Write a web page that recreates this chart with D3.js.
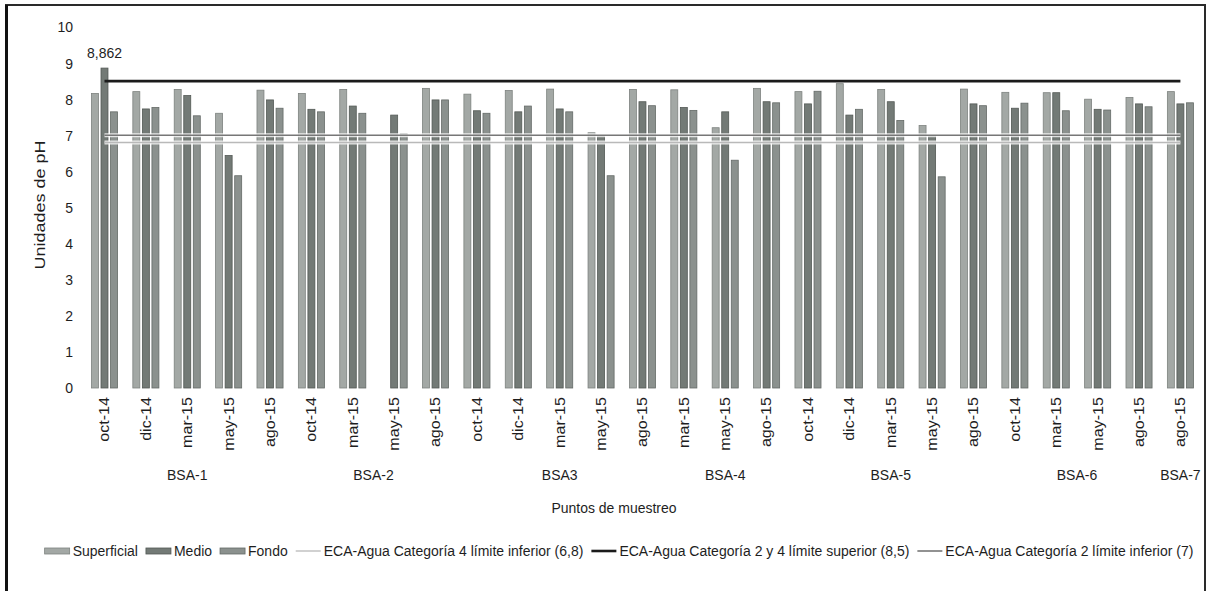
<!DOCTYPE html>
<html>
<head>
<meta charset="utf-8">
<script src="https://cdn.jsdelivr.net/npm/d3@7"></script>
<style>
  body { margin: 0; background: #fff; }
  svg { display: block; }
  text { font-family: "Liberation Sans", Arial, sans-serif; fill: #1e1e1e; }
</style>
</head>
<body>
<svg id="chart" width="1208" height="591"></svg>
<script>
// Sampling dates (one per category on the axis)
const fechas = [
  "oct-14", "dic-14", "mar-15", "may-15", "ago-15",
  "oct-14", "mar-15", "may-15", "ago-15",
  "oct-14", "dic-14", "mar-15", "may-15", "ago-15",
  "mar-15", "may-15", "ago-15",
  "oct-14", "dic-14", "mar-15", "may-15", "ago-15",
  "oct-14", "mar-15", "may-15", "ago-15",
  "ago-15"
];
// Sampling stations and how many dates each one groups
const estaciones = ["BSA-1", "BSA-2", "BSA3", "BSA-4", "BSA-5", "BSA-6", "BSA-7"];
const muestrasPorEstacion = [5, 4, 5, 3, 5, 4, 1];

// pH by depth (null = no sample)
const superficial = [8.16, 8.21, 8.27, 7.61, 8.25, 8.16, 8.27, null, 8.30, 8.14, 8.24, 8.28, 7.07, 8.27,
                     8.26, 7.21, 8.30, 8.21, 8.43, 8.27, 7.27, 8.28, 8.19, 8.18, 8.00, 8.05, 8.21];
const medio       = [8.862, 7.73, 8.10, 6.44, 7.98, 7.72, 7.81, 7.56, 7.98, 7.68, 7.65, 7.73, 6.97, 7.93,
                     7.77, 7.65, 7.93, 7.87, 7.56, 7.93, 6.98, 7.87, 7.75, 8.18, 7.72, 7.87, 7.87];
const fondo       = [7.65, 7.77, 7.54, 5.88, 7.75, 7.65, 7.61, 7.04, 7.98, 7.61, 7.81, 7.65, 5.88, 7.82,
                     7.69, 6.31, 7.90, 8.22, 7.72, 7.41, 5.85, 7.82, 7.89, 7.68, 7.70, 7.79, 7.90];

const seriesNombres = ["Superficial", "Medio", "Fondo"];
const seriesValores = [superficial, medio, fondo];

// ECA water-quality limits
const limites = [
  { nombre: "ECA-Agua Categoría 4 límite inferior (6,8)", valor: 6.8 },
  { nombre: "ECA-Agua Categoría 2 y 4 límite superior (8,5)", valor: 8.5 },
  { nombre: "ECA-Agua Categoría 2 límite inferior (7)", valor: 7 }
];

const yTicks = [0, 1, 2, 3, 4, 5, 6, 7, 8, 9, 10];

// ---- styles ----
const barColor = { "Superficial": "#a3a8a5", "Medio": "#737a76", "Fondo": "#8b918e" };
const barStroke = { "Superficial": "#7d827f", "Medio": "#535955", "Fondo": "#646a67" };
const lineStyle = [
  { stroke: "#b9b9b9", width: 1.3, halo: true },
  { stroke: "#1b1b1b", width: 2.6, halo: false },
  { stroke: "#777777", width: 1.6, halo: true }
];
const hStretch = "scale(1,1.1)";

const svg = d3.select("#chart");

// frame
svg.append("rect").attr("x", 6).attr("y", 5).attr("width", 1199).attr("height", 640)
  .attr("fill", "none").attr("stroke", "#2a2a2a").attr("stroke-width", 2);
svg.append("line").attr("x1", 6.5).attr("x2", 6.5).attr("y1", 5).attr("y2", 591)
  .attr("stroke", "#111").attr("stroke-width", 3);

// scales
const x0 = d3.scaleBand()
  .domain(d3.range(fechas.length))
  .range([83.8, 1201.1])
  .paddingInner(0.37)
  .paddingOuter(0.185);
const x1 = d3.scaleBand()
  .domain(seriesNombres)
  .range([0, x0.bandwidth()])
  .paddingInner(0.27);
const y = d3.scaleLinear().domain([0, 10]).range([388, 27]);

// bars
const gBars = svg.append("g");
const barData = [];
fechas.forEach((f, i) => {
  seriesNombres.forEach((s, k) => {
    const v = seriesValores[k][i];
    if (v != null) barData.push({ i, s, v });
  });
});
gBars.selectAll("rect").data(barData).join("rect")
  .attr("x", d => x0(d.i) + x1(d.s))
  .attr("width", x1.bandwidth())
  .attr("y", d => y(d.v))
  .attr("height", d => y(0) - y(d.v))
  .attr("fill", d => barColor[d.s])
  .attr("stroke", d => barStroke[d.s])
  .attr("stroke-width", 0.8);

// limit lines, from first to last category centre
const xFirst = x0(0) + x0.bandwidth() / 2;
const xLast = x0(fechas.length - 1) + x0.bandwidth() / 2;
const gLines = svg.append("g");
limites.forEach((l, k) => {
  const st = lineStyle[k];
  if (st.halo) {
    gLines.append("line")
      .attr("x1", xFirst).attr("x2", xLast).attr("y1", y(l.valor)).attr("y2", y(l.valor))
      .attr("stroke", "#ffffff").attr("stroke-opacity", 0.78).attr("stroke-width", 4);
  }
});
limites.forEach((l, k) => {
  const st = lineStyle[k];
  gLines.append("line")
    .attr("x1", xFirst).attr("x2", xLast).attr("y1", y(l.valor)).attr("y2", y(l.valor))
    .attr("stroke", st.stroke).attr("stroke-width", st.width);
});

// value label on the maximum
const iMax = d3.maxIndex(medio);
svg.append("text")
  .attr("transform", `translate(${x0(iMax) + x1("Medio") + x1.bandwidth() / 2},${y(medio[iMax]) - 10}) ${hStretch}`)
  .attr("text-anchor", "middle")
  .attr("font-size", 14)
  .text(d3.format(".3f")(medio[iMax]).replace(".", ","));

// y axis
const gy = svg.append("g").attr("transform", "translate(73,0)")
  .call(d3.axisLeft(y).tickValues(yTicks).tickSize(0).tickPadding(0).tickFormat(d3.format("d")));
gy.select(".domain").remove();
gy.selectAll("text").attr("font-size", 14).attr("font-family", null).attr("fill", "#1e1e1e")
  .attr("transform", hStretch);

// x axis: dates
const gx = svg.append("g").attr("transform", "translate(0,388)")
  .call(d3.axisBottom(x0).tickSize(0).tickFormat(i => fechas[i]));
gx.select(".domain").remove();
gx.selectAll("text")
  .attr("font-size", 14).attr("font-family", null).attr("fill", "#1e1e1e")
  .attr("x", 0).attr("y", 0).attr("dy", "0.35em")
  .attr("text-anchor", "end")
  .attr("transform", "translate(0,9) scale(1,1.15) rotate(-90)");

// x axis: stations
let start = 0;
estaciones.forEach((e, k) => {
  const n = muestrasPorEstacion[k];
  const a = x0(start), b = x0(start + n - 1) + x0.bandwidth();
  svg.append("text")
    .attr("transform", `translate(${(a + b) / 2},480) ${hStretch}`)
    .attr("text-anchor", "middle").attr("font-size", 14)
    .text(e);
  start += n;
});

// axis titles
svg.append("text")
  .attr("transform", `translate(614,513) ${hStretch}`)
  .attr("text-anchor", "middle").attr("font-size", 14)
  .text("Puntos de muestreo");
svg.append("text")
  .attr("transform", "translate(40,205) scale(1,1.2) rotate(-90)")
  .attr("text-anchor", "middle").attr("dy", "0.35em").attr("font-size", 15)
  .text("Unidades de pH");

// legend
const legend = svg.append("g");
const items = [
  ...seriesNombres.map(s => ({ tipo: "bar", nombre: s })),
  ...limites.map((l, k) => ({ tipo: "line", nombre: l.nombre, k }))
];
const swW = 25, swGap = 3, itemGap = 8, legY = 551;
let cx = 0;
items.forEach(it => {
  const g = legend.append("g");
  if (it.tipo === "bar") {
    g.append("rect").attr("x", cx).attr("y", legY - 3).attr("width", swW).attr("height", 6)
      .attr("fill", barColor[it.nombre]).attr("stroke", barStroke[it.nombre]).attr("stroke-width", 0.8);
  } else {
    const st = lineStyle[it.k];
    g.append("line").attr("x1", cx).attr("x2", cx + swW).attr("y1", legY).attr("y2", legY)
      .attr("stroke", st.stroke).attr("stroke-width", st.width);
  }
  const t = g.append("text")
    .attr("transform", `translate(${cx + swW + swGap},${legY + 5}) ${hStretch}`)
    .attr("font-size", 14)
    .text(it.nombre);
  cx += swW + swGap + t.node().getComputedTextLength() + itemGap;
});
const legW = cx - itemGap;
legend.attr("transform", `translate(${619 - legW / 2},0)`);
</script>
</body>
</html>
